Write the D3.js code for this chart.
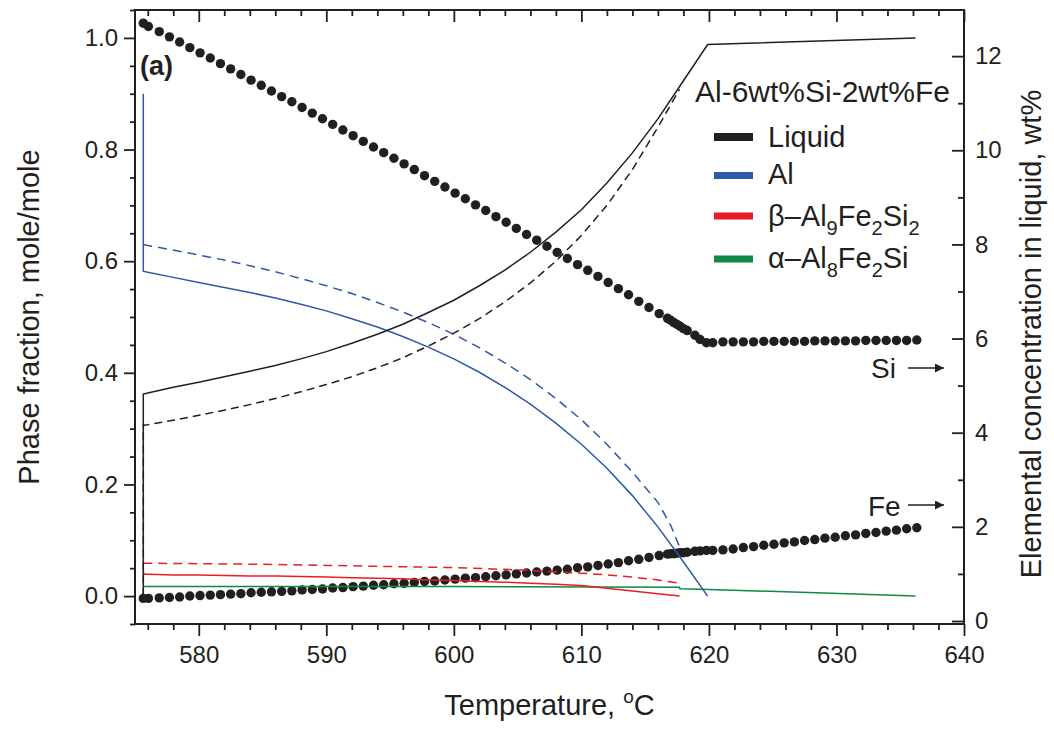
<!DOCTYPE html>
<html>
<head>
<meta charset="utf-8">
<script src="https://cdn.jsdelivr.net/npm/d3@7/dist/d3.min.js"></script>
<style>
  html, body { margin: 0; padding: 0; background: #fff; }
  svg { display: block; font-family: "Liberation Sans", Arial, Helvetica, sans-serif; }
  .axis text { font-size: 24px; fill: #231f20; }
  .axis path, .axis line { stroke: #231f20; }
</style>
</head>
<body>
<svg id="chart" width="1054" height="729"></svg>
<script>
// ---- Liquid composition (right axis, wt%) sampled along solidification ----
const dotTemps = [
  575.65, 576.05,
  576.9, 577.7, 578.5, 579.3, 580.1, 580.9, 581.7, 582.5, 583.3, 584.1,
  584.9, 585.7, 586.5, 587.3, 588.1, 588.9, 589.7, 590.5, 591.3, 592.1,
  592.9, 593.7, 594.5, 595.3, 596.1, 596.9, 597.7, 598.5, 599.3, 600.1,
  600.9, 601.7, 602.5, 603.3, 604.1, 604.9, 605.7, 606.5, 607.3, 608.1,
  608.9, 609.7, 610.5, 611.3, 612.1, 612.9, 613.7, 614.5, 615.3, 616.1,
  616.75, 617.0, 617.25, 617.5, 617.75, 618.0, 618.3, 618.9, 619.3, 619.8, 620.3,
  621.1, 621.9, 622.7, 623.5, 624.3, 625.1, 625.9, 626.7, 627.5, 628.3,
  629.1, 629.9, 630.7, 631.5, 632.3, 633.1, 633.9, 634.7, 635.5, 636.3
];
const siLiquid = [
  12.70, 12.63,
  12.52, 12.41, 12.30, 12.18, 12.07, 11.96, 11.84, 11.73, 11.61, 11.49,
  11.38, 11.26, 11.14, 11.03, 10.91, 10.79, 10.67, 10.55, 10.43, 10.31,
  10.19, 10.07, 9.95, 9.83, 9.71, 9.59, 9.46, 9.34, 9.22, 9.09,
  8.97, 8.84, 8.72, 8.59, 8.47, 8.34, 8.21, 8.09, 7.96, 7.83,
  7.70, 7.57, 7.45, 7.32, 7.19, 7.06, 6.93, 6.79, 6.66, 6.53,
  6.43, 6.39, 6.34, 6.30, 6.26, 6.21, 6.17, 6.07, 5.98, 5.91, 5.91,
  5.93, 5.93, 5.93, 5.93, 5.94, 5.94, 5.94, 5.94, 5.94, 5.95,
  5.95, 5.95, 5.95, 5.95, 5.96, 5.96, 5.96, 5.96, 5.96, 5.97
];
const feLiquid = [
  0.48, 0.48,
  0.49, 0.50, 0.51, 0.53, 0.54, 0.55, 0.56, 0.57, 0.58, 0.60,
  0.61, 0.62, 0.63, 0.64, 0.66, 0.67, 0.68, 0.70, 0.71, 0.73,
  0.74, 0.76, 0.77, 0.79, 0.80, 0.82, 0.84, 0.85, 0.87, 0.89,
  0.91, 0.92, 0.94, 0.96, 0.98, 1.00, 1.02, 1.04, 1.06, 1.08,
  1.10, 1.13, 1.15, 1.18, 1.21, 1.24, 1.28, 1.31, 1.35, 1.39,
  1.42, 1.43, 1.43, 1.44, 1.45, 1.45, 1.46, 1.48, 1.49, 1.50, 1.50,
  1.51, 1.53, 1.56, 1.58, 1.61, 1.63, 1.66, 1.68, 1.71, 1.73,
  1.76, 1.78, 1.81, 1.83, 1.86, 1.88, 1.91, 1.93, 1.96, 1.98
];

// ---- Phase fractions (left axis, mole/mole), solid-line calculation ----
const liquidT = [575.65, 575.65, 576, 578, 580, 582, 584, 586, 588, 590, 592, 594, 596, 598,
  600, 602, 604, 606, 608, 610, 612, 614, 616, 617.7, 619.9, 636.2];
const liquidF = [0, 0.362, 0.364, 0.374, 0.383, 0.393, 0.403, 0.413, 0.425, 0.438, 0.453, 0.469, 0.487, 0.508,
  0.530, 0.556, 0.584, 0.616, 0.652, 0.692, 0.740, 0.794, 0.855, 0.913, 0.988, 1.0];

const alT = [575.65, 575.65, 576, 578, 580, 582, 584, 586, 588, 590, 592, 594, 596, 598,
  600, 602, 604, 606, 608, 610, 612, 614, 616, 617.7, 619.9];
const alF = [0.900, 0.582, 0.580, 0.571, 0.562, 0.553, 0.544, 0.534, 0.523, 0.511, 0.497, 0.482, 0.465, 0.446,
  0.425, 0.401, 0.374, 0.344, 0.310, 0.272, 0.229, 0.180, 0.124, 0.071, 0.0];

const betaT = [575.65, 575.7, 576, 578, 580, 582, 584, 586, 588, 590, 592, 594, 596, 598,
  600, 602, 604, 606, 608, 610, 612, 614, 616, 617.7];
const betaF = [0.044, 0.039, 0.039, 0.038, 0.038, 0.037, 0.036, 0.036, 0.035, 0.034, 0.033, 0.032, 0.031, 0.029,
  0.028, 0.026, 0.025, 0.023, 0.021, 0.019, 0.014, 0.009, 0.004, 0.0];

const alphaT = [575.65, 600, 617.7, 617.72, 620, 636.2];
const alphaF = [0.017, 0.017, 0.016, 0.013, 0.012, 0.0];

// ---- Phase fractions, dashed-line calculation ----
const liquidDT = [575.65, 575.65, 576, 578, 580, 582, 584, 586, 588, 590, 592, 594, 596, 598,
  600, 602, 604, 606, 608, 610, 612, 614, 616, 617.7];
const liquidDF = [0, 0.306, 0.307, 0.315, 0.324, 0.333, 0.343, 0.354, 0.366, 0.379, 0.393, 0.409, 0.427, 0.448,
  0.471, 0.497, 0.527, 0.561, 0.600, 0.646, 0.700, 0.764, 0.840, 0.908];

const alDT = [575.65, 576, 578, 580, 582, 584, 586, 588, 590, 592, 594, 596, 598,
  600, 602, 604, 606, 608, 610, 612, 614, 616, 617, 617.7];
const alDF = [0.630, 0.628, 0.620, 0.611, 0.602, 0.592, 0.581, 0.569, 0.556, 0.542, 0.526, 0.509, 0.490,
  0.469, 0.445, 0.418, 0.388, 0.354, 0.316, 0.272, 0.222, 0.168, 0.127, 0.088];

const betaDT = [575.65, 580, 585, 590, 595, 600, 605, 610, 612, 614, 616, 617.7];
const betaDF = [0.059, 0.058, 0.057, 0.055, 0.053, 0.051, 0.047, 0.041, 0.038, 0.034, 0.029, 0.023];

// ---- Axis ticks ----
const xTicks = [580, 590, 600, 610, 620, 630, 640];
const yLeftTicks = [0.0, 0.2, 0.4, 0.6, 0.8, 1.0];
const yRightTicks = [0, 2, 4, 6, 8, 10, 12];

const legendItems = [
  { key: "liquid", color: "#231f20", h: 8 },
  { key: "al", color: "#2e58a8", h: 7 },
  { key: "beta", color: "#ed1c24", h: 7 },
  { key: "alpha", color: "#0c8a43", h: 7 }
];

const BLACK = "#231f20", BLUE = "#2e58a8", RED = "#ed1c24", GREEN = "#0c8a43";

const svg = d3.select("#chart");
const L = 135, R = 964, TOP = 10, BOT = 624;

const x = d3.scaleLinear().domain([575, 640]).range([L, R]);
const yL = d3.scaleLinear().domain([-0.05, 1.05]).range([BOT, TOP]);
const yR = d3.scaleLinear().domain([-0.064, 12.98]).range([BOT, TOP]);

svg.append("rect").attr("width", 1054).attr("height", 729).attr("fill", "#fff");

// minor tick helpers
const xMinor = d3.range(576, 641, 2).filter(v => v % 10 !== 0);
const yLMinor = d3.range(-0.05, 1.051, 0.05).map(v => +v.toFixed(2)).filter(v => Math.abs(v * 5 - Math.round(v * 5)) > 1e-6);
const yRMinor = [1, 3, 5, 7, 9, 11];

function styleAxis(g) {
  g.select(".domain").remove();
  g.selectAll(".tick line").attr("stroke", BLACK).attr("stroke-width", 1.8);
}

// bottom axis
svg.append("g").attr("class", "axis").attr("transform", `translate(0,${BOT})`)
  .call(d3.axisBottom(x).tickValues(xTicks).tickSize(12).tickPadding(10).tickFormat(d3.format("d")))
  .call(styleAxis);
svg.append("g").attr("class", "axis").attr("transform", `translate(0,${BOT})`)
  .call(d3.axisBottom(x).tickValues(xMinor).tickSize(6).tickFormat(""))
  .call(styleAxis);
// top axis, ticks inward
svg.append("g").attr("class", "axis").attr("transform", `translate(0,${TOP})`)
  .call(d3.axisTop(x).tickValues(xTicks).tickSizeInner(-12).tickSizeOuter(0).tickFormat(""))
  .call(styleAxis);
svg.append("g").attr("class", "axis").attr("transform", `translate(0,${TOP})`)
  .call(d3.axisTop(x).tickValues(xMinor).tickSizeInner(-6).tickSizeOuter(0).tickFormat(""))
  .call(styleAxis);
// left axis
svg.append("g").attr("class", "axis").attr("transform", `translate(${L},0)`)
  .call(d3.axisLeft(yL).tickValues(yLeftTicks).tickSize(11).tickPadding(6).tickFormat(d3.format(".1f")))
  .call(styleAxis);
svg.append("g").attr("class", "axis").attr("transform", `translate(${L},0)`)
  .call(d3.axisLeft(yL).tickValues(yLMinor).tickSize(5).tickFormat(""))
  .call(styleAxis);
// right axis, ticks inward
svg.append("g").attr("class", "axis").attr("transform", `translate(${R},0)`)
  .call(d3.axisRight(yR).tickValues(yRightTicks).tickSizeInner(-12).tickSizeOuter(0).tickPadding(11).tickFormat(d3.format("d")))
  .call(styleAxis);
svg.append("g").attr("class", "axis").attr("transform", `translate(${R},0)`)
  .call(d3.axisRight(yR).tickValues(yRMinor).tickSizeInner(-6).tickSizeOuter(0).tickFormat(""))
  .call(styleAxis);

// frame
svg.append("rect").attr("x", L).attr("y", TOP).attr("width", R - L).attr("height", BOT - TOP)
  .attr("fill", "none").attr("stroke", BLACK).attr("stroke-width", 2);

// clip for plot content
svg.append("clipPath").attr("id", "plotClip").append("rect")
  .attr("x", L).attr("y", TOP).attr("width", R - L).attr("height", BOT - TOP);
const plot = svg.append("g").attr("clip-path", "url(#plotClip)");

// liquid composition dots
const dotData = dotTemps.map((t, i) => ({ t, si: siLiquid[i], fe: feLiquid[i] }));
plot.append("g").selectAll("circle.si").data(dotData).join("circle")
  .attr("class", "si").attr("cx", d => x(d.t)).attr("cy", d => yR(d.si)).attr("r", 4.7).attr("fill", BLACK);
plot.append("g").selectAll("circle.fe").data(dotData).join("circle")
  .attr("class", "fe").attr("cx", d => x(d.t)).attr("cy", d => yR(d.fe)).attr("r", 4.7).attr("fill", BLACK);

// phase fraction lines
const line = d3.line().x(d => x(d[0])).y(d => yL(d[1]));
function drawSeries(ts, vs, color, dash) {
  plot.append("path").datum(d3.zip(ts, vs))
    .attr("d", line).attr("fill", "none").attr("stroke", color)
    .attr("stroke-width", 1.5).attr("stroke-dasharray", dash || null);
}
drawSeries(alphaT, alphaF, GREEN);
drawSeries(betaDT, betaDF, RED, "9,6");
drawSeries(betaT, betaF, RED);
drawSeries(alDT, alDF, BLUE, "9,6");
drawSeries(alT, alF, BLUE);
drawSeries(liquidDT, liquidDF, BLACK, "8,5");
drawSeries(liquidT, liquidF, BLACK);

// panel label and alloy name
svg.append("text").attr("x", 140).attr("y", 75).attr("font-size", 27).attr("font-weight", "bold")
  .attr("fill", BLACK).text("(a)");
svg.append("text").attr("x", 695).attr("y", 102).attr("font-size", 30).attr("fill", BLACK)
  .text("Al-6wt%Si-2wt%Fe");

// legend
const legend = svg.append("g");
const legendY = [137, 175.5, 216, 259];
legendItems.forEach((it, i) => {
  legend.append("rect").attr("x", 714).attr("y", legendY[i] - it.h / 2)
    .attr("width", 39).attr("height", it.h).attr("fill", it.color);
});
function legendText(y, parts) {
  const t = legend.append("text").attr("x", 768).attr("y", y).attr("font-size", 29).attr("fill", BLACK);
  parts.forEach(p => {
    const s = t.append("tspan").text(p.s);
    if (p.sub) s.attr("font-size", 20).attr("dy", 9);
    else if (p.back) s.attr("dy", -9);
  });
}
legendText(147, [{ s: "Liquid" }]);
legendText(184, [{ s: "Al" }]);
legendText(226, [{ s: "β–Al" }, { s: "9", sub: true }, { s: "Fe", back: true }, { s: "2", sub: true },
  { s: "Si", back: true }, { s: "2", sub: true }]);
legendText(268, [{ s: "α–Al" }, { s: "8", sub: true }, { s: "Fe", back: true }, { s: "2", sub: true },
  { s: "Si", back: true }]);

// element markers with arrows
svg.append("defs").append("marker").attr("id", "arrowHead")
  .attr("viewBox", "0 0 10 10").attr("refX", 10).attr("refY", 5)
  .attr("markerWidth", 16).attr("markerHeight", 9).attr("markerUnits", "userSpaceOnUse")
  .attr("orient", "auto")
  .append("path").attr("d", "M0,0 L10,5 L0,10 Z").attr("fill", BLACK);
[{ label: "Si", tx: 871, ty: 378, ay: 368 }, { label: "Fe", tx: 868, ty: 516, ay: 505 }].forEach(m => {
  svg.append("text").attr("x", m.tx).attr("y", m.ty).attr("font-size", 28).attr("fill", BLACK).text(m.label);
  svg.append("line").attr("x1", 908).attr("x2", 944).attr("y1", m.ay).attr("y2", m.ay)
    .attr("stroke", BLACK).attr("stroke-width", 1.6).attr("marker-end", "url(#arrowHead)");
});

// axis titles
const xt = svg.append("text").attr("x", (L + R) / 2).attr("y", 715).attr("text-anchor", "middle")
  .attr("font-size", 29).attr("fill", BLACK);
xt.append("tspan").text("Temperature, ");
xt.append("tspan").attr("font-size", 19).attr("dy", -12).text("o");
xt.append("tspan").attr("dy", 12).text("C");

svg.append("text").attr("transform", `translate(39,${(TOP + BOT) / 2}) rotate(-90)`)
  .attr("text-anchor", "middle").attr("font-size", 29).attr("fill", BLACK)
  .text("Phase fraction, mole/mole");
svg.append("text").attr("transform", `translate(1041,334) rotate(-90)`)
  .attr("text-anchor", "middle").attr("font-size", 29).attr("fill", BLACK)
  .text("Elemental concentration in liquid, wt%");
</script>
</body>
</html>
